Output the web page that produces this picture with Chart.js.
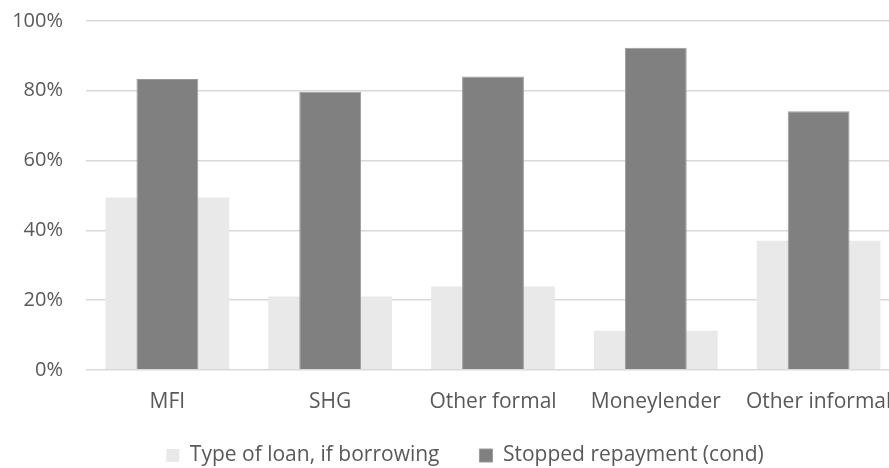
<!DOCTYPE html>
<html><head><meta charset="utf-8">
<script src="https://cdn.jsdelivr.net/npm/chart.js@4"></script>
<style>html,body{margin:0;padding:0;overflow:hidden;background:#fff}#wrap{width:919px;height:468px;position:relative}</style>
</head><body><div id="wrap"><canvas id="c"></canvas></div>
<script>
const categories = ["MFI", "SHG", "Other formal", "Moneylender", "Other informal"];
const typeOfLoan = [49.4, 21, 23.9, 11.2, 37];
const stoppedRepayment = [83.4, 79.7, 84.1, 92.3, 74.1];
const yTicks = [0, 20, 40, 60, 80, 100];

const FONT = "'Open Sans', sans-serif";
const legendPlugin = {
  id: 'legendTune',
  beforeLayout(chart) {
    const L = chart.legend;
    if (L && !L._patched) {
      const f = L.fit;
      L.fit = function () { f.call(this); this.height = 33; };
      L._patched = true;
    }
  },
  afterLayout(chart) {
    const L = chart.legend;
    L.top = 405; L.bottom = chart.height;
    L.left += 15; L.right += 15;
  }
};
new Chart(document.getElementById('c'), {
  type: 'bar',
  data: {
    labels: categories,
    datasets: [
      { label: 'Type of loan, if borrowing', data: typeOfLoan, backgroundColor: '#E9E9E9',
        grouped: false, barPercentage: 0.76, categoryPercentage: 1, order: 1 },
      { label: 'Stopped repayment (cond)', data: stoppedRepayment, backgroundColor: '#808080',
        borderColor: '#9a9a9a', borderWidth: 1,
        grouped: false, barPercentage: 0.38, categoryPercentage: 1, order: 0 }
    ]
  },
  plugins: [legendPlugin],
  options: {
    responsive: true, maintainAspectRatio: false, animation: false,
    layout: { padding: { top: 0, right: 19, bottom: 0, left: 0 } },
    plugins: {
      tooltip: { enabled: false },
      legend: { position: 'bottom', reverse: true,
        labels: { boxWidth: 13, boxHeight: 13, padding: 40, color: '#595959',
          font: { family: FONT, size: 21 } } }
    },
    scales: {
      x: { grid: { display: false, drawTicks: false }, border: { display: false },
        ticks: { color: '#595959', font: { family: FONT, size: 21 }, padding: 20, maxRotation: 0, autoSkip: false } },
      y: { min: 0, max: 100, afterBuildTicks: s => { s.ticks = yTicks.map(v => ({ value: v })); },
        afterFit: s => { s.width = 86; s.paddingTop = 21; s.paddingBottom = 0; },
        grid: { color: '#D9D9D9', lineWidth: 1.5, drawTicks: false }, border: { display: false },
        ticks: { color: '#595959', font: { family: FONT, size: 20 }, padding: 23, callback: v => v + '%' } }
    }
  }
});
</script></body></html>
